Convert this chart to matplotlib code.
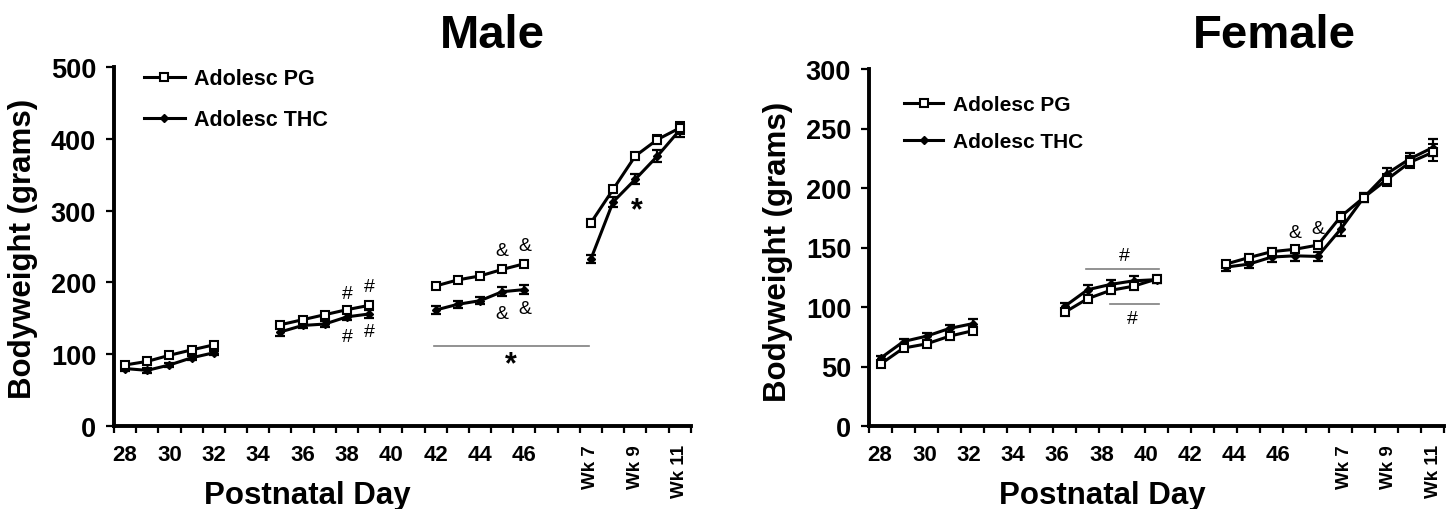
import matplotlib
matplotlib.use("Agg")
import matplotlib.pyplot as plt
from matplotlib.lines import Line2D

plt.rcParams['font.family'] = ['Liberation Sans', 'DejaVu Sans']

# ---- data -------------------------------------------------------------
# time points (postnatal day, then adult week)
male_time = ['28', '29', '30', '31', '32',
             '35', '36', '37', '38', '39',
             '42', '43', '44', '45', '46',
             'Wk 7', 'Wk 8', 'Wk 9', 'Wk 10', 'Wk 11']
female_time = ['28', '29', '30', '31', '32',
               '36', '37', '38', '39', '40',
               '43', '44', '45', '46', '47',
               'Wk 7', 'Wk 8', 'Wk 9', 'Wk 10', 'Wk 11']

male_pg = [85, 90, 98.5, 106, 113,
           141, 148, 155, 162, 168,
           195, 203.5, 209, 218, 226,
           283, 329.5, 376, 399, 415]
male_pg_err = [3, 3, 3, 3, 3,
               4, 4, 4, 4, 4,
               4, 4, 4, 4, 4,
               5, 5, 6, 6, 8]
male_thc = [80, 77.5, 85, 95, 102,
            131, 140, 142, 152, 156,
            161.5, 169.5, 174.5, 187, 190,
            232.5, 312, 343.5, 376, 412]
male_thc_err = [3, 3, 3, 3, 3,
                5, 4, 4, 5, 5,
                5, 5, 5, 6, 6,
                6, 7, 7, 8, 9]

female_pg = [52, 65.5, 69, 75.5, 80,
             95.5, 107, 114, 117.5, 123.5,
             136, 141.5, 146.5, 148.5, 152,
             176, 192, 207, 221.5, 230]
female_pg_err = [2, 2, 2, 3, 3,
                 3, 3, 3, 3, 3,
                 3, 3, 3, 3, 3,
                 4, 4, 5, 5, 7]
female_thc = [57, 71, 75.5, 82, 86,
              100.5, 114.5, 119, 122, 123,
              133.5, 136, 142, 143, 142.5,
              165.5, 192, 212, 224.5, 234]
female_thc_err = [2, 2, 3, 3, 4,
                  3, 4, 4, 4, 3,
                  3, 3, 4, 4, 4,
                  6, 4, 5, 5, 7]

# category slots along each x axis (blank slots are gaps)
male_slots = [str(d) for d in range(28, 47)] + ['', ''] + ['Wk 7', 'Wk 8', 'Wk 9', 'Wk 10', 'Wk 11']
female_slots = [str(d) for d in range(28, 48)] + ['Wk 7', 'Wk 8', 'Wk 9', 'Wk 10', 'Wk 11']

# labelled ticks
tick_labels = ['28', '30', '32', '34', '36', '38', '40', '42', '44', '46', 'Wk 7', 'Wk 9', 'Wk 11']
series_names = ['Adolesc PG', 'Adolesc THC']

# ---- figure -----------------------------------------------------------
W, H = 1455, 510
fig = plt.figure(figsize=(W / 100, H / 100), dpi=100)


def px_box(x0, y0, x1, y1):
    return [x0 / W, 1 - y1 / H, (x1 - x0) / W, (y1 - y0) / H]


ax_m = fig.add_axes(px_box(114, 68, 690.7, 427))
ax_f = fig.add_axes(px_box(869, 70, 1444.3, 427))

LW = 2.2
pg_style = dict(color='black', lw=LW, marker='s', ms=6.4, mfc='white', mec='black', mew=1.5)
thc_style = dict(color='black', lw=LW, marker='D', ms=4.2, mfc='black', mec='black')
err_style = dict(ecolor='black', elinewidth=1.6, capsize=3.3, capthick=1.6)


def draw_groups(ax, slots, times, vals, errs, style, z):
    pos = [slots.index(t) for t in times]
    # split into runs of consecutive slots so gaps are not bridged
    runs, cur = [], [0]
    for i in range(1, len(pos)):
        if pos[i] == pos[i - 1] + 1:
            cur.append(i)
        else:
            runs.append(cur)
            cur = [i]
    runs.append(cur)
    for r in runs:
        ax.errorbar([pos[i] for i in r], [vals[i] for i in r], yerr=[errs[i] for i in r],
                    zorder=z, **style, **err_style)


def style_axis(ax, n_slots, ymax, ystep, label_pos):
    ax.set_xlim(-0.5, n_slots - 0.5)
    ax.set_ylim(0, ymax)
    for s in ['top', 'right']:
        ax.spines[s].set_visible(False)
    for s in ['left', 'bottom']:
        ax.spines[s].set_linewidth(2.8)
        ax.spines[s].set_capstyle('projecting')
    ax.set_yticks(range(0, ymax + 1, ystep))
    ax.tick_params(axis='y', length=5.8, width=1.6, pad=7, labelsize=19.5)
    for lb in ax.get_yticklabels():
        lb.set_fontweight('bold')
    ax.set_xticks([i - 0.5 for i in range(n_slots + 1)], minor=True)
    ax.tick_params(axis='x', which='minor', length=5, width=1.6, direction='out')
    ax.set_xticks(label_pos)
    ax.set_xticklabels(tick_labels)
    ax.tick_params(axis='x', which='major', length=0, pad=13, labelsize=16)
    for lb in ax.get_xticklabels():
        lb.set_fontweight('bold')
        if lb.get_text().startswith('Wk'):
            lb.set_rotation(90)
            lb.set_fontsize(13.5)
            lb.set_va('top')


# label slots follow the 26-slot layout of the male axis
label_slots = [male_slots.index(t) for t in tick_labels]
male_label_pos = label_slots
female_label_pos = [(k + 0.5) * len(female_slots) / len(male_slots) - 0.5 for k in label_slots]

# ---- male -------------------------------------------------------------
draw_groups(ax_m, male_slots, male_time, male_thc, male_thc_err, thc_style, 3)
draw_groups(ax_m, male_slots, male_time, male_pg, male_pg_err, pg_style, 4)
style_axis(ax_m, len(male_slots), 500, 100, male_label_pos)

ms = male_slots.index
ann = dict(ha='center', va='center', fontsize=14, color='black')
for d, y in [('38', 184), ('39', 194), ('38', 124), ('39', 131)]:
    ax_m.text(ms(d), y, '#', **ann)
for d, y in [('45', 244), ('46', 251), ('45', 156), ('46', 164)]:
    ax_m.text(ms(d), y, '&', **ann)
ax_m.plot([ms('42') - 0.07, ms('Wk 7') - 0.1], [111, 111], color='#7f7f7f', lw=1.2, zorder=1)
ax_m.text(17.4, 86, '*', ha='center', va='center', fontsize=22, fontweight='bold')
ax_m.text(ms('Wk 9') + 0.05, 300, '*', ha='center', va='center', fontsize=22, fontweight='bold')

# ---- female -----------------------------------------------------------
draw_groups(ax_f, female_slots, female_time, female_thc, female_thc_err, thc_style, 3)
draw_groups(ax_f, female_slots, female_time, female_pg, female_pg_err, pg_style, 4)
style_axis(ax_f, len(female_slots), 300, 50, female_label_pos)

fs = female_slots.index
ax_f.plot([fs('36') + 0.93, fs('40') + 0.1], [132, 132], color='#7f7f7f', lw=1.2, zorder=1)
ax_f.text(fs('38') + 0.6, 143, '#', **ann)
ax_f.plot([fs('38') - 0.02, fs('40') + 0.1], [102.6, 102.6], color='#7f7f7f', lw=1.2, zorder=1)
ax_f.text(fs('38') + 0.95, 90.5, '#', **ann)
for d, y in [('46', 163), ('47', 166)]:
    ax_f.text(fs(d), y, '&', **ann)

# ---- legends ----------------------------------------------------------
handles = [Line2D([], [], **dict(pg_style, ms=5.2)), Line2D([], [], **dict(thc_style, ms=3.6))]
ax_m.legend(handles, series_names, loc='upper left', bbox_to_anchor=(0.018, 1.05),
            frameon=False, handlelength=1.9, handletextpad=0.45, labelspacing=0.92,
            prop={'weight': 'bold', 'size': 15.5})
ax_f.legend(handles, series_names, loc='upper left', bbox_to_anchor=(0.028, 0.98),
            frameon=False, handlelength=1.9, handletextpad=0.45, labelspacing=0.87,
            prop={'weight': 'bold', 'size': 15})

# ---- titles and axis labels -------------------------------------------
def ftext(x, y, s, **kw):
    fig.text(x / W, 1 - y / H, s, **kw)


ftext(492, 48.5, 'Male', ha='center', va='baseline', fontsize=34, fontweight='bold')
ftext(1274, 48.5, 'Female', ha='center', va='baseline', fontsize=34, fontweight='bold')
ftext(307.5, 504, 'Postnatal Day', ha='center', va='baseline', fontsize=22.5, fontweight='bold')
ftext(1102, 504, 'Postnatal Day', ha='center', va='baseline', fontsize=22.5, fontweight='bold')
ftext(23, 248.5, 'Bodyweight (grams)', ha='center', va='center', rotation=90,
      fontsize=22.5, fontweight='bold')
ftext(778, 252, 'Bodyweight (grams)', ha='center', va='center', rotation=90,
      fontsize=22.5, fontweight='bold')

fig.savefig('out.png', dpi=100)
